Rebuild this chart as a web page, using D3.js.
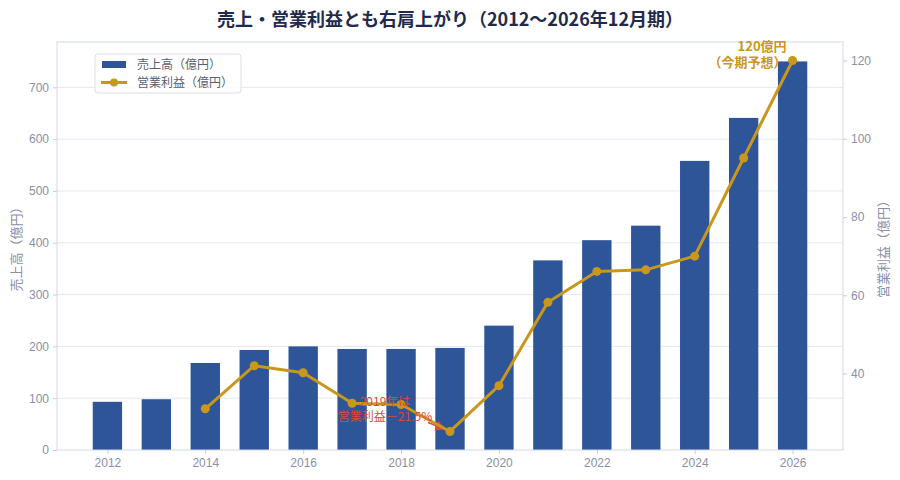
<!DOCTYPE html>
<html lang="ja">
<head>
<meta charset="UTF-8">
<title>売上・営業利益</title>
<script src="https://d3js.org/d3.v7.min.js"></script>
<style>
  body { margin: 0; background: #fff; }
  svg { font-family: "Noto Sans CJK JP", "Noto Sans", sans-serif; }
  .tick text { fill: #8a8fa8; font-size: 12px; }
  .tick line { stroke: #c8ccdc; }
  .domain { display: none; }
</style>
</head>
<body>
<svg id="chart" width="900" height="480"></svg>
<script>
// データ
const years = [2012, 2013, 2014, 2015, 2016, 2017, 2018, 2019, 2020, 2021, 2022, 2023, 2024, 2025, 2026];
const sales = [93, 98, 168, 193, 200, 195, 195, 197, 240, 366, 405, 433, 558, 641, 750];
const profitYears = [2014, 2015, 2016, 2017, 2018, 2019, 2020, 2021, 2022, 2023, 2024, 2025, 2026];
const profit = [31, 42, 40.2, 32.4, 32.1, 25.2, 36.9, 58.2, 66.1, 66.5, 70, 95.1, 120];
const xTicks = [2012, 2014, 2016, 2018, 2020, 2022, 2024, 2026];
const leftTicks = [0, 100, 200, 300, 400, 500, 600, 700];
const rightTicks = [40, 60, 80, 100, 120];

const svg = d3.select("#chart");
const m = { left: 57, right: 843, top: 42, bottom: 450 };
const barW = 0.6;

const x0 = years[0] - barW / 2, x1 = years[years.length - 1] + barW / 2;
const xPad = (x1 - x0) * 0.05;
const x = d3.scaleLinear().domain([x0 - xPad, x1 + xPad]).range([m.left, m.right]);

const yL = d3.scaleLinear().domain([0, d3.max(sales) * 1.05]).range([m.bottom, m.top]);

const pMin = d3.min(profit), pMax = d3.max(profit);
const pPad = (pMax - pMin) * 0.05;
const yR = d3.scaleLinear().domain([pMin - pPad, pMax + pPad]).range([m.bottom, m.top]);

const blue = "#2e5597", gold = "#c8971b", red = "#d64b3b";

// グリッド
svg.append("g").selectAll("line").data(leftTicks.slice(1)).join("line")
  .attr("x1", m.left).attr("x2", m.right)
  .attr("y1", d => yL(d)).attr("y2", d => yL(d))
  .attr("stroke", "#e6e8f0").attr("stroke-width", 1);

// 棒
svg.append("g").selectAll("rect").data(years).join("rect")
  .attr("x", (d) => x(d - barW / 2))
  .attr("width", x(barW) - x(0))
  .attr("y", (d, i) => yL(sales[i]))
  .attr("height", (d, i) => yL(0) - yL(sales[i]))
  .attr("fill", blue);

// 枠
svg.append("rect")
  .attr("x", m.left).attr("y", m.top)
  .attr("width", m.right - m.left).attr("height", m.bottom - m.top)
  .attr("fill", "none").attr("stroke", "#d4d7e6").attr("stroke-width", 1);

// 軸
svg.append("g").attr("transform", `translate(0,${m.bottom})`)
  .call(d3.axisBottom(x).tickValues(xTicks).tickFormat(d3.format("d")).tickSize(4).tickPadding(4));
svg.append("g").attr("transform", `translate(${m.left},0)`)
  .call(d3.axisLeft(yL).tickValues(leftTicks).tickSize(4).tickPadding(4));
svg.append("g").attr("transform", `translate(${m.right},0)`)
  .call(d3.axisRight(yR).tickValues(rightTicks).tickSize(4).tickPadding(4));

// 注記：2019年の矢印
const pt19 = [x(2019), yR(profit[profitYears.indexOf(2019)])];
svg.append("defs").append("marker")
  .attr("id", "arrow").attr("viewBox", "0 0 10 10")
  .attr("refX", 10).attr("refY", 5)
  .attr("markerWidth", 7).attr("markerHeight", 7)
  .attr("orient", "auto-start-reverse")
  .append("path").attr("d", "M0,0 L10,5 L0,10 z").attr("fill", red);
svg.append("line")
  .attr("x1", pt19[0] - 22).attr("y1", pt19[1] - 9)
  .attr("x2", pt19[0] - 4).attr("y2", pt19[1] - 2)
  .attr("stroke", red).attr("stroke-width", 1.5)
  .attr("marker-end", "url(#arrow)");

// 折れ線
const line = d3.line().x((d, i) => x(profitYears[i])).y(d => yR(d));
svg.append("path").datum(profit)
  .attr("d", line).attr("fill", "none")
  .attr("stroke", gold).attr("stroke-width", 3).attr("stroke-linejoin", "round");
svg.append("g").selectAll("circle").data(profit).join("circle")
  .attr("cx", (d, i) => x(profitYears[i])).attr("cy", d => yR(d))
  .attr("r", 4.5).attr("fill", gold);

const note19 = svg.append("text")
  .attr("text-anchor", "middle").attr("fill", red).attr("font-size", 12);
note19.append("tspan").attr("x", pt19[0] - 65).attr("y", pt19[1] - 25).text("2019年は");
note19.append("tspan").attr("x", pt19[0] - 65).attr("y", pt19[1] - 10).text("営業利益－21.5%");

// 注記：今期予想
const pt26 = [x(2026), yR(profit[profit.length - 1])];
const note26 = svg.append("text")
  .attr("text-anchor", "end").attr("fill", gold)
  .attr("font-size", 13).attr("font-weight", "bold");
note26.append("tspan").attr("x", pt26[0] - 6).attr("y", pt26[1] - 10).text("120億円");
note26.append("tspan").attr("x", pt26[0] - 6).attr("y", pt26[1] + 6).text("（今期予想）");

// タイトル
svg.append("text")
  .attr("x", 450).attr("y", 26).attr("text-anchor", "middle")
  .attr("font-size", 18).attr("font-weight", "bold").attr("fill", "#1f2a4d")
  .text("売上・営業利益とも右肩上がり（2012〜2026年12月期）");

// 軸ラベル
svg.append("text")
  .attr("transform", `translate(21,${(m.top + m.bottom) / 2}) rotate(-90)`)
  .attr("text-anchor", "middle").attr("fill", "#8a8fa8").attr("font-size", 13)
  .text("売上高（億円）");
svg.append("text")
  .attr("transform", `translate(888,${(m.top + m.bottom) / 2}) rotate(-90)`)
  .attr("text-anchor", "middle").attr("fill", "#8a8fa8").attr("font-size", 13)
  .text("営業利益（億円）");

// 凡例
const lg = svg.append("g").attr("transform", "translate(95,54)");
lg.append("rect").attr("width", 146).attr("height", 39).attr("rx", 3)
  .attr("fill", "#fff").attr("fill-opacity", 0.85)
  .attr("stroke", "#dcdfea");
lg.append("rect").attr("x", 7).attr("y", 7).attr("width", 24).attr("height", 7).attr("fill", blue);
lg.append("line").attr("x1", 6).attr("x2", 32).attr("y1", 28.5).attr("y2", 28.5)
  .attr("stroke", gold).attr("stroke-width", 3);
lg.append("circle").attr("cx", 19).attr("cy", 28.5).attr("r", 4).attr("fill", gold);
lg.append("text").attr("x", 42).attr("y", 15).attr("font-size", 12).attr("fill", "#5a5f70").text("売上高（億円）");
lg.append("text").attr("x", 42).attr("y", 33).attr("font-size", 12).attr("fill", "#5a5f70").text("営業利益（億円）");
</script>
</body>
</html>
